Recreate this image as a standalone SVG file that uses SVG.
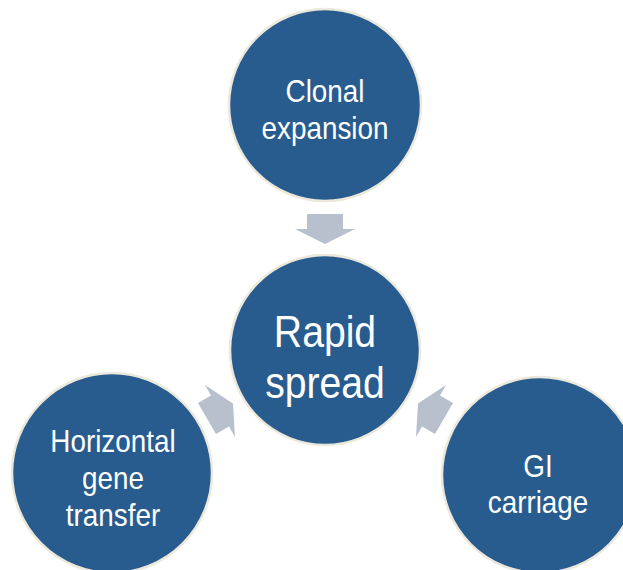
<svg xmlns="http://www.w3.org/2000/svg" width="623" height="570" viewBox="0 0 623 570">
  <style>
    .node { fill: #285c8e; stroke: #ece9dc; stroke-width: 2.5; }
    .lbl { fill: #ffffff; font-family: "Liberation Sans", Arial, sans-serif; text-anchor: middle; }
    .sm { font-size: 32px; }
    .lg { font-size: 45px; }
    .arrow { fill: #b8bfcd; }
  </style>
  <defs>
    <path id="blockArrow" d="M-15,-18 L0,-18 L0,-30 L15,0 L0,30 L0,18 L-15,18 Z"/>
  </defs>
  <rect width="623" height="570" fill="#ffffff"/>

  <g id="connectors">
    <use href="#blockArrow" class="arrow" transform="translate(325 229) rotate(90)"/>
    <use href="#blockArrow" class="arrow" transform="translate(220 411) rotate(-30)"/>
    <use href="#blockArrow" class="arrow" transform="translate(431 411) rotate(-150)"/>
  </g>

  <g id="node-clonal">
    <circle class="node" cx="325" cy="105" r="96"/>
    <text class="lbl sm" transform="translate(325 0) scale(0.87 1)" x="0" y="102">Clonal</text>
    <text class="lbl sm" transform="translate(325 0) scale(0.87 1)" x="0" y="139">expansion</text>
  </g>

  <g id="node-rapid">
    <circle class="node" cx="325" cy="350" r="95"/>
    <text class="lbl lg" transform="translate(325 0) scale(0.87 1)" x="0" y="347">Rapid</text>
    <text class="lbl lg" transform="translate(325 0) scale(0.87 1)" x="0" y="398">spread</text>
  </g>

  <g id="node-hgt">
    <circle class="node" cx="112" cy="473" r="100"/>
    <text class="lbl sm" transform="translate(113 0) scale(0.87 1)" x="0" y="452">Horizontal</text>
    <text class="lbl sm" transform="translate(113 0) scale(0.87 1)" x="0" y="489">gene</text>
    <text class="lbl sm" transform="translate(113 0) scale(0.87 1)" x="0" y="526">transfer</text>
  </g>

  <g id="node-gi">
    <circle class="node" cx="540" cy="475" r="98"/>
    <text class="lbl sm" transform="translate(538 0) scale(0.87 1)" x="0" y="477">GI</text>
    <text class="lbl sm" transform="translate(538 0) scale(0.87 1)" x="0" y="513">carriage</text>
  </g>
</svg>
